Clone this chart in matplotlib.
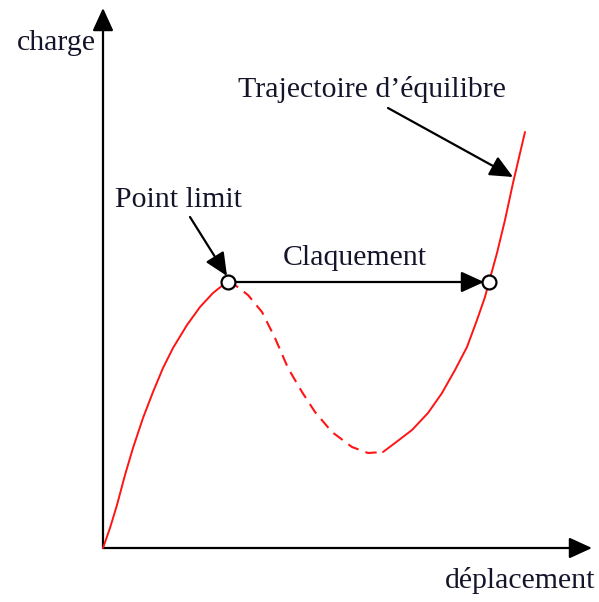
import matplotlib
matplotlib.use("Agg")
import matplotlib.pyplot as plt

# Load-displacement path (displacement, load) in drawing units
rising_disp = [0, 7, 14, 22, 30, 40, 50, 60, 70, 84, 97, 110, 120, 125]
rising_load = [0, 20, 43, 73, 100, 130, 156, 180, 200, 223, 241, 255, 263, 266]

unstable_disp = [125, 132, 145, 159, 172, 185, 199, 212, 229, 249, 265, 280]
unstable_load = [266, 263, 253, 236, 210, 180, 156, 136, 116, 101, 95, 96]

stable_disp = [280, 292, 309, 325, 339, 352, 364, 374, 382, 386, 394, 402, 410, 422]
stable_load = [96, 105, 118, 135, 155, 178, 201, 228, 251, 266, 295, 328, 365, 416]

limit_point = (125, 266)
snap_point = (386, 266)

labels = {
    "charge": (-86, 498),
    "Trajectoire d\u2019\u00e9quilibre": (135, 451),
    "Point limit": (12, 341),
    "Claquement": (180, 283),
    "d\u00e9placement": (342, -40),
}

fig = plt.figure(figsize=(5.99, 6.02), dpi=100)
ax = fig.add_axes([0, 0, 1, 1])
ax.set_xlim(-103, 496)
ax.set_ylim(-54, 548)
ax.axis("off")

font = dict(family=["Liberation Serif", "DejaVu Serif"], size=21.5, color="#14142a")
head = "-|>,head_length=0.7,head_width=0.32"
arrow = dict(arrowstyle=head, mutation_scale=20, lw=1.6, color="black",
             shrinkA=0, shrinkB=0)

# axes with arrowheads
ax.annotate("", xy=(489, 0), xytext=(0, 0), arrowprops=arrow)
ax.annotate("", xy=(0, 540), xytext=(0, 0), arrowprops=arrow)

# equilibrium path
red = "#ff1414"
ax.plot(rising_disp, rising_load, color=red, lw=1.4, solid_capstyle="round",
        solid_joinstyle="round", zorder=3)
ax.plot(unstable_disp, unstable_load, color=red, lw=1.5, linestyle=(0, (5.5, 3.5)),
        zorder=3)
ax.plot(stable_disp, stable_load, color=red, lw=1.4, solid_capstyle="round",
        solid_joinstyle="round", zorder=3)

# snap-through jump
ax.annotate("", xy=(snap_point[0] - 5, snap_point[1]),
            xytext=(limit_point[0] + 5, limit_point[1]), arrowprops=arrow, zorder=4)

# pointers from labels
ax.annotate("", xy=(124, 272), xytext=(87, 331), arrowprops=arrow)
ax.annotate("", xy=(410, 371), xytext=(285, 440), arrowprops=arrow)

# limit point and re-stabilisation point
ax.plot([limit_point[0], snap_point[0]], [limit_point[1], snap_point[1]], "o",
        ms=10, mfc="white", mec="black", mew=1.6, zorder=5)

for text, (x, y) in labels.items():
    ax.text(x, y, text, ha="left", va="baseline", **font)

fig.savefig("out.png", dpi=100, facecolor="white")
